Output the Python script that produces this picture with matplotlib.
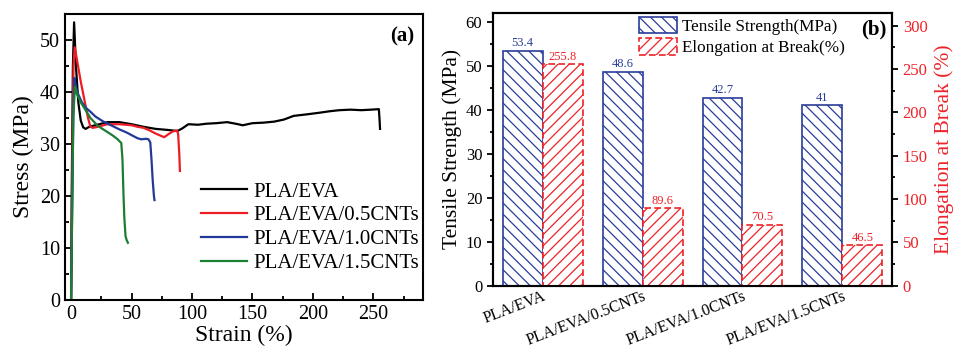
import numpy as np
import matplotlib
matplotlib.use('Agg')
import matplotlib.pyplot as plt
from matplotlib.ticker import MultipleLocator

plt.rcParams['font.family'] = ['Liberation Serif', 'DejaVu Serif']
plt.rcParams['hatch.linewidth'] = 0.9

# --- (a) stress-strain curves ---
strain_eva = [0, 0.5, 1.5, 2.5, 4, 6, 8, 10, 12, 15, 20, 30, 40, 50, 60, 70, 80, 88, 92, 97,
              105, 112, 120, 129, 136, 142, 150, 159, 168, 176, 184, 195, 205, 214, 222, 231,
              240, 248, 254.5, 255, 255.5]
stress_eva = [0, 20, 45, 53.4, 45, 38, 34.5, 33.2, 32.9, 33.3, 33.6, 34.2, 34.2, 33.8, 33.3, 32.9,
              32.7, 32.5, 33.0, 33.8, 33.7, 33.9, 34.0, 34.2, 33.9, 33.6, 34.0, 34.1, 34.3, 34.7,
              35.4, 35.7, 36.0, 36.3, 36.5, 36.6, 36.5, 36.6, 36.7, 35.0, 32.9]

strain_05 = [0, 1, 2, 3, 5, 8, 11, 14, 16, 18, 22, 30, 40, 50, 55, 60, 65, 70, 74, 77, 80, 84,
             87.5, 88.5, 89.5, 90]
stress_05 = [0, 25, 45, 48.6, 46, 42, 38.5, 35, 33.3, 33.1, 33.3, 33.8, 33.8, 33.6, 33.3, 33.1,
             32.6, 32.0, 31.6, 31.3, 31.8, 32.4, 32.6, 32.0, 28.0, 24.8]

strain_10 = [0, 1, 2, 2.8, 4, 6, 9, 12, 16, 20, 26, 33, 40, 46, 50, 55, 58, 62, 64, 65.5, 66.5,
             67.5, 68.5, 69]
stress_10 = [0, 20, 38, 42.7, 41, 39.5, 38, 37, 36.2, 35.3, 34.4, 33.6, 32.8, 32.2, 31.7, 31.1,
             30.9, 31.0, 30.9, 30.3, 27, 23, 20, 19.2]

strain_15 = [0, 0.8, 1.8, 3.2, 5, 8, 12, 16, 22, 28, 34, 38, 41.5, 42.5, 43.3, 44, 45, 46, 47]
stress_15 = [0, 15, 35, 41, 39.5, 38, 36.5, 35, 33.5, 32.6, 31.7, 31.0, 30.2, 27, 20.6, 16,
             12.3, 11.5, 11.0]

curve_labels = ['PLA/EVA', 'PLA/EVA/0.5CNTs', 'PLA/EVA/1.0CNTs', 'PLA/EVA/1.5CNTs']
curve_colors = ['black', '#ee1c24', '#22399a', '#1b7f32']

# --- (b) bar data ---
samples = ['PLA/EVA', 'PLA/EVA/0.5CNTs', 'PLA/EVA/1.0CNTs', 'PLA/EVA/1.5CNTs']
tensile = [53.4, 48.6, 42.7, 41]
elongation = [255.8, 89.6, 70.5, 46.5]
tensile_txt = ['53.4', '48.6', '42.7', '41']
elong_txt = ['255.8', '89.6', '70.5', '46.5']

blue = '#2a3d9a'
red = '#ee2228'

fig = plt.figure(figsize=(9.78, 3.5), dpi=100)

# ---------------- panel (a) ----------------
ax1 = fig.add_axes([0.0665, 0.143, 0.366, 0.817])
curves = [(strain_eva, stress_eva), (strain_05, stress_05), (strain_10, stress_10), (strain_15, stress_15)]
for (sx, sy), lab, c in zip(curves, curve_labels, curve_colors):
    ax1.plot(sx, sy, color=c, lw=1.6, label=lab)

ax1.set_xlim(-5, 291)
ax1.set_ylim(0, 55)
ax1.xaxis.set_major_locator(MultipleLocator(50))
ax1.xaxis.set_minor_locator(MultipleLocator(25))
ax1.yaxis.set_major_locator(MultipleLocator(10))
ax1.yaxis.set_minor_locator(MultipleLocator(5))
ax1.tick_params(which='both', direction='in', labelsize=14.5, width=1.3)
ax1.tick_params(which='major', length=5)
ax1.tick_params(which='minor', length=3)
for s in ax1.spines.values():
    s.set_linewidth(1.5)
ax1.set_xlabel('Strain (%)', fontsize=17, labelpad=1)
ax1.set_ylabel('Stress (MPa)', fontsize=17, labelpad=4)
ax1.text(0.975, 0.955, '(a)', transform=ax1.transAxes, ha='right', va='top',
         fontsize=15, fontweight='bold')
ax1.legend(loc='lower right', bbox_to_anchor=(1.0, 0.08), frameon=False, fontsize=15,
           handlelength=2.2, handletextpad=0.3, labelspacing=0.2, borderpad=0, borderaxespad=0.2)

# ---------------- panel (b) ----------------
ax2 = fig.add_axes([0.5038, 0.1837, 0.4086, 0.78])
ax3 = ax2.twinx()
x = np.arange(len(samples))
w = 0.4
b1 = ax2.bar(x - w / 2, tensile, w, facecolor='white', edgecolor=blue, hatch='\\\\\\',
             lw=1.2, label='Tensile Strength(MPa)')
b2 = ax3.bar(x + w / 2, elongation, w, facecolor='white', edgecolor=red, hatch='///',
             lw=1.2, linestyle=(0, (4, 2)), label='Elongation at Break(%)')

for bar, t in zip(b1, tensile_txt):
    ax2.text(bar.get_x() + bar.get_width() / 2, bar.get_height() + 0.3, t,
             ha='center', va='bottom', fontsize=9, color=blue)
for bar, t in zip(b2, elong_txt):
    ax3.text(bar.get_x() + bar.get_width() / 2, bar.get_height() + 1.5, t,
             ha='center', va='bottom', fontsize=9, color=red)

ax2.set_xlim(-0.5, 3.5)
ax2.set_ylim(0, 62)
ax3.set_ylim(0, 315)
ax2.yaxis.set_major_locator(MultipleLocator(10))
ax2.yaxis.set_minor_locator(MultipleLocator(5))
ax3.yaxis.set_major_locator(MultipleLocator(50))
ax3.yaxis.set_minor_locator(MultipleLocator(25))
ax2.set_xticks(x)
ax2.set_xticklabels(samples, rotation=21, ha='right', rotation_mode='anchor', fontsize=11.5)
ax2.tick_params(axis='x', length=0, pad=2)
ax2.tick_params(axis='y', which='both', direction='out', labelsize=12, width=1.3)
ax2.tick_params(axis='y', which='major', length=4)
ax2.tick_params(axis='y', which='minor', length=2.5)
ax3.tick_params(axis='y', which='both', direction='out', labelsize=12, width=1.3,
                labelcolor=red)
ax3.tick_params(axis='y', which='major', length=4)
ax3.tick_params(axis='y', which='minor', length=2.5)
for a in (ax2, ax3):
    for s in a.spines.values():
        s.set_linewidth(1.5)
ax2.set_ylabel('Tensile Strength (MPa)', fontsize=15.5, labelpad=3)
ax3.set_ylabel('Elongation at Break (%)', fontsize=15.5, color=red, labelpad=5)
ax2.text(0.985, 0.975, '(b)', transform=ax2.transAxes, ha='right', va='top',
         fontsize=15, fontweight='bold')

ax3.legend([b1, b2], ['Tensile Strength(MPa)', 'Elongation at Break(%)'],
           loc='upper left', bbox_to_anchor=(0.367, 0.985), frameon=False, fontsize=12.3,
           handlelength=2.2, handleheight=1.1, handletextpad=0.3, labelspacing=0.2,
           borderpad=0, borderaxespad=0)

plt.savefig('out.png', dpi=100)
